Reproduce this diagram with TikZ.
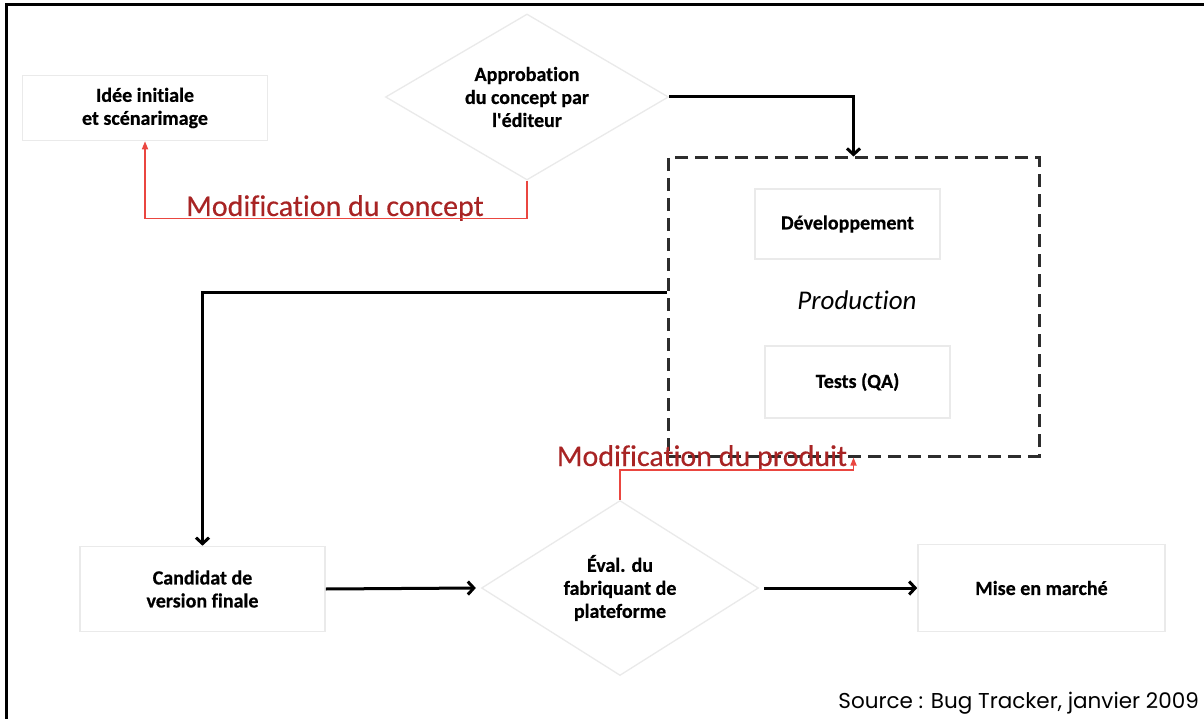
\documentclass[tikz,border=0pt]{standalone}
\usepackage{fontspec}
\setmainfont{Carlito}[Ligatures=NoCommon]
\newfontfamily\nodefont{Carlito}[Ligatures=NoCommon, BoldFeatures={FakeBold=0.6}]
\newfontfamily\redfont{Carlito}[Ligatures=NoCommon, FakeBold=0.3]
\newfontfamily\srcfont{Poppins}
\usetikzlibrary{arrows.meta,shapes.geometric}
\definecolor{darkred}{RGB}{168,36,36}
\definecolor{linered}{RGB}{234,70,64}
\definecolor{faint}{RGB}{234,234,234}
\definecolor{dashgray}{RGB}{45,45,45}
\tikzset{
  procbox/.style={draw=faint, line width=1.6pt, inner sep=0pt, align=center,
    font=\nodefont\bfseries\fontsize{20}{23}\selectfont},
  decision/.style={shape=diamond, draw=faint, line width=1.3pt, inner sep=0pt, aspect=1.7,
    align=center, font=\nodefont\bfseries\fontsize{20}{23}\selectfont},
  dashbox/.style={draw=dashgray, line width=3pt, dash pattern=on 13pt off 7pt},
  redtxt/.style={text=darkred, font=\redfont\fontsize{30}{32}\selectfont, inner sep=0pt},
  blackarrow/.style={draw=black, line width=3pt, -{Straight Barb[length=6pt,width=13pt]}},
  redarrow/.style={draw=linered, line width=1.6pt, -{Triangle[length=8pt,width=6pt]}}
}
\begin{document}
\begin{tikzpicture}[x=1pt,y=-1pt]
\useasboundingbox[fill=white] (0,0) rectangle (1204,719);
% frame
\draw[line width=3pt] (6,719) -- (6,5) -- (1204,5);

% nodes
\node[procbox, minimum width=245pt, minimum height=65pt] (idee) at (145,108) {Idée initiale\\et scénarimage};
\node[decision, minimum width=283pt, minimum height=166pt] (appr) at (527,97) {Approbation\\du concept par\\l'éditeur};
\node[dashbox, minimum width=371pt, minimum height=298pt] (prod) at (853.5,307) {};
\node[procbox, minimum width=185pt, minimum height=70pt] (dev) at (847.5,224) {Développement};
\node[font=\itshape\fontsize{27}{30}\selectfont] (prodlbl) at (857,300) {Production};
\node[procbox, minimum width=185pt, minimum height=72pt] (tests) at (857.5,382) {Tests (QA)};
\node[procbox, minimum width=245pt, minimum height=85pt] (cand) at (202.5,589) {Candidat de\\version finale};
\node[decision, minimum width=277pt, minimum height=175pt] (eval) at (620,588) {Éval. du\\fabriquant de\\plateforme};
\node[procbox, minimum width=247pt, minimum height=87pt] (mise) at (1041.5,588) {Mise en marché};

% red labels
\node[redtxt] (modc) at (335,208) {Modification du concept};
\node[redtxt] (modp) at (702,458) {Modification du produit};

% source
\node[anchor=base east, inner sep=0pt, font=\srcfont\fontsize{21.5}{24}\selectfont] (src) at (1199,708) {Source : Bug Tracker, janvier 2009};

% connectors
\draw[blackarrow] (appr.east) -| (prod.north);
\draw[blackarrow] ([yshift=15pt]prod.west) -| (cand.north);
\draw[blackarrow] (cand.east) -- ([xshift=-5pt]eval.west);
\draw[blackarrow] ([xshift=5pt]eval.east) -- (mise.west);
\draw[redarrow] (appr.south) -- ++(0,38) -| (idee.south);
\draw[redarrow] (eval.north) -- ++(0,-30) -| (prod.south);
\end{tikzpicture}
\end{document}
